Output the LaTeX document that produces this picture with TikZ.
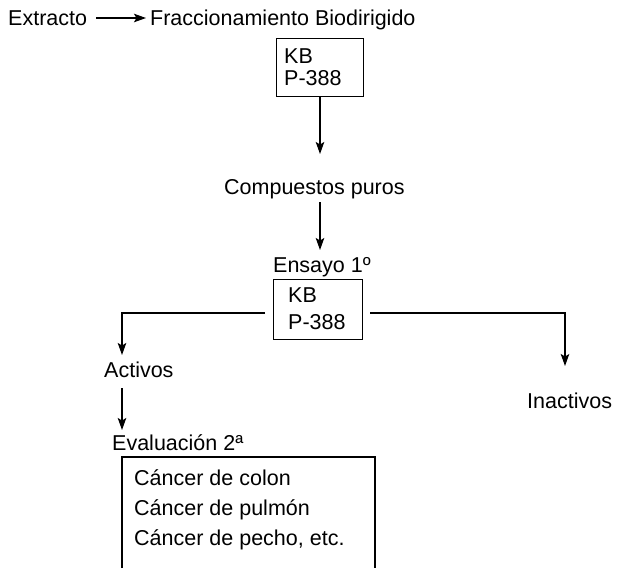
\documentclass[tikz,border=0pt]{standalone}
\usepackage{fontspec}
\setmainfont{Liberation Sans}
\usetikzlibrary{arrows.meta}
\begin{document}
\begin{tikzpicture}[x=1pt,y=-1pt,
  txt/.style={inner sep=0pt,font=\fontsize{21.5}{22}\selectfont},
  ln/.style={line width=1.2pt},
  arr/.style={ln,-{Stealth[length=12pt,width=8.5pt,inset=2.5pt]}}]
\useasboundingbox (0,0) rectangle (621,568);
\node[txt,anchor=base west] (ext) at (8,25) {Extracto};
\node[txt,anchor=base west] (frac) at (150,25) {Fraccionamiento Biodirigido};
\coordinate (a1) at (96,18);
\coordinate (a2) at (146,18);
\draw[arr] (a1) -- (a2);
\node[draw,line width=1.2pt,minimum width=87pt,minimum height=58pt,anchor=north west] (box1) at (276,38) {};
\node[txt,anchor=base west] (kb1) at (284,63) {KB};
\node[txt,anchor=base west] (p1) at (284,85) {P-388};
\node[txt,anchor=base west] (comp) at (224,194) {Compuestos puros};
\coordinate (c1t) at (320,154);
\draw[arr] (box1.south -| 320,0) -- (c1t);
\coordinate (c2s) at (320,202);
\coordinate (c2t) at (320,250);
\draw[arr] (c2s) -- (c2t);
\node[txt,anchor=base west] (ens) at (273,272) {Ensayo 1º};
\node[draw,line width=1.2pt,minimum width=89pt,minimum height=60pt,anchor=north west] (box2) at (273,279) {};
\node[txt,anchor=base west] (kb2) at (288,302) {KB};
\node[txt,anchor=base west] (p2) at (288,329) {P-388};
\coordinate (lst) at (265,313);
\coordinate (lt) at (122,355);
\coordinate (rst) at (370,313);
\coordinate (rt) at (565,366);
\draw[arr] (lst) -| (lt);
\draw[arr] (rst) -| (rt);
\node[txt,anchor=base west] (act) at (104,377) {Activos};
\node[txt,anchor=base west] (inact) at (527,408) {Inactivos};
\coordinate (a3s) at (122,388);
\coordinate (a3t) at (122,430);
\draw[arr] (a3s) -- (a3t);
\node[txt,anchor=base west] (eval) at (112,450) {Evaluación 2ª};
\coordinate (b3a) at (122,568);
\coordinate (b3b) at (122,457);
\coordinate (b3c) at (375,457);
\coordinate (b3d) at (375,568);
\draw[ln] (b3a) -- (b3b) -- (b3c) -- (b3d);
\node[txt,anchor=base west] (l1) at (134,485) {Cáncer de colon};
\node[txt,anchor=base west] (l2) at (134,515) {Cáncer de pulmón};
\node[txt,anchor=base west] (l3) at (134,545) {Cáncer de pecho, etc.};
\end{tikzpicture}
\end{document}
